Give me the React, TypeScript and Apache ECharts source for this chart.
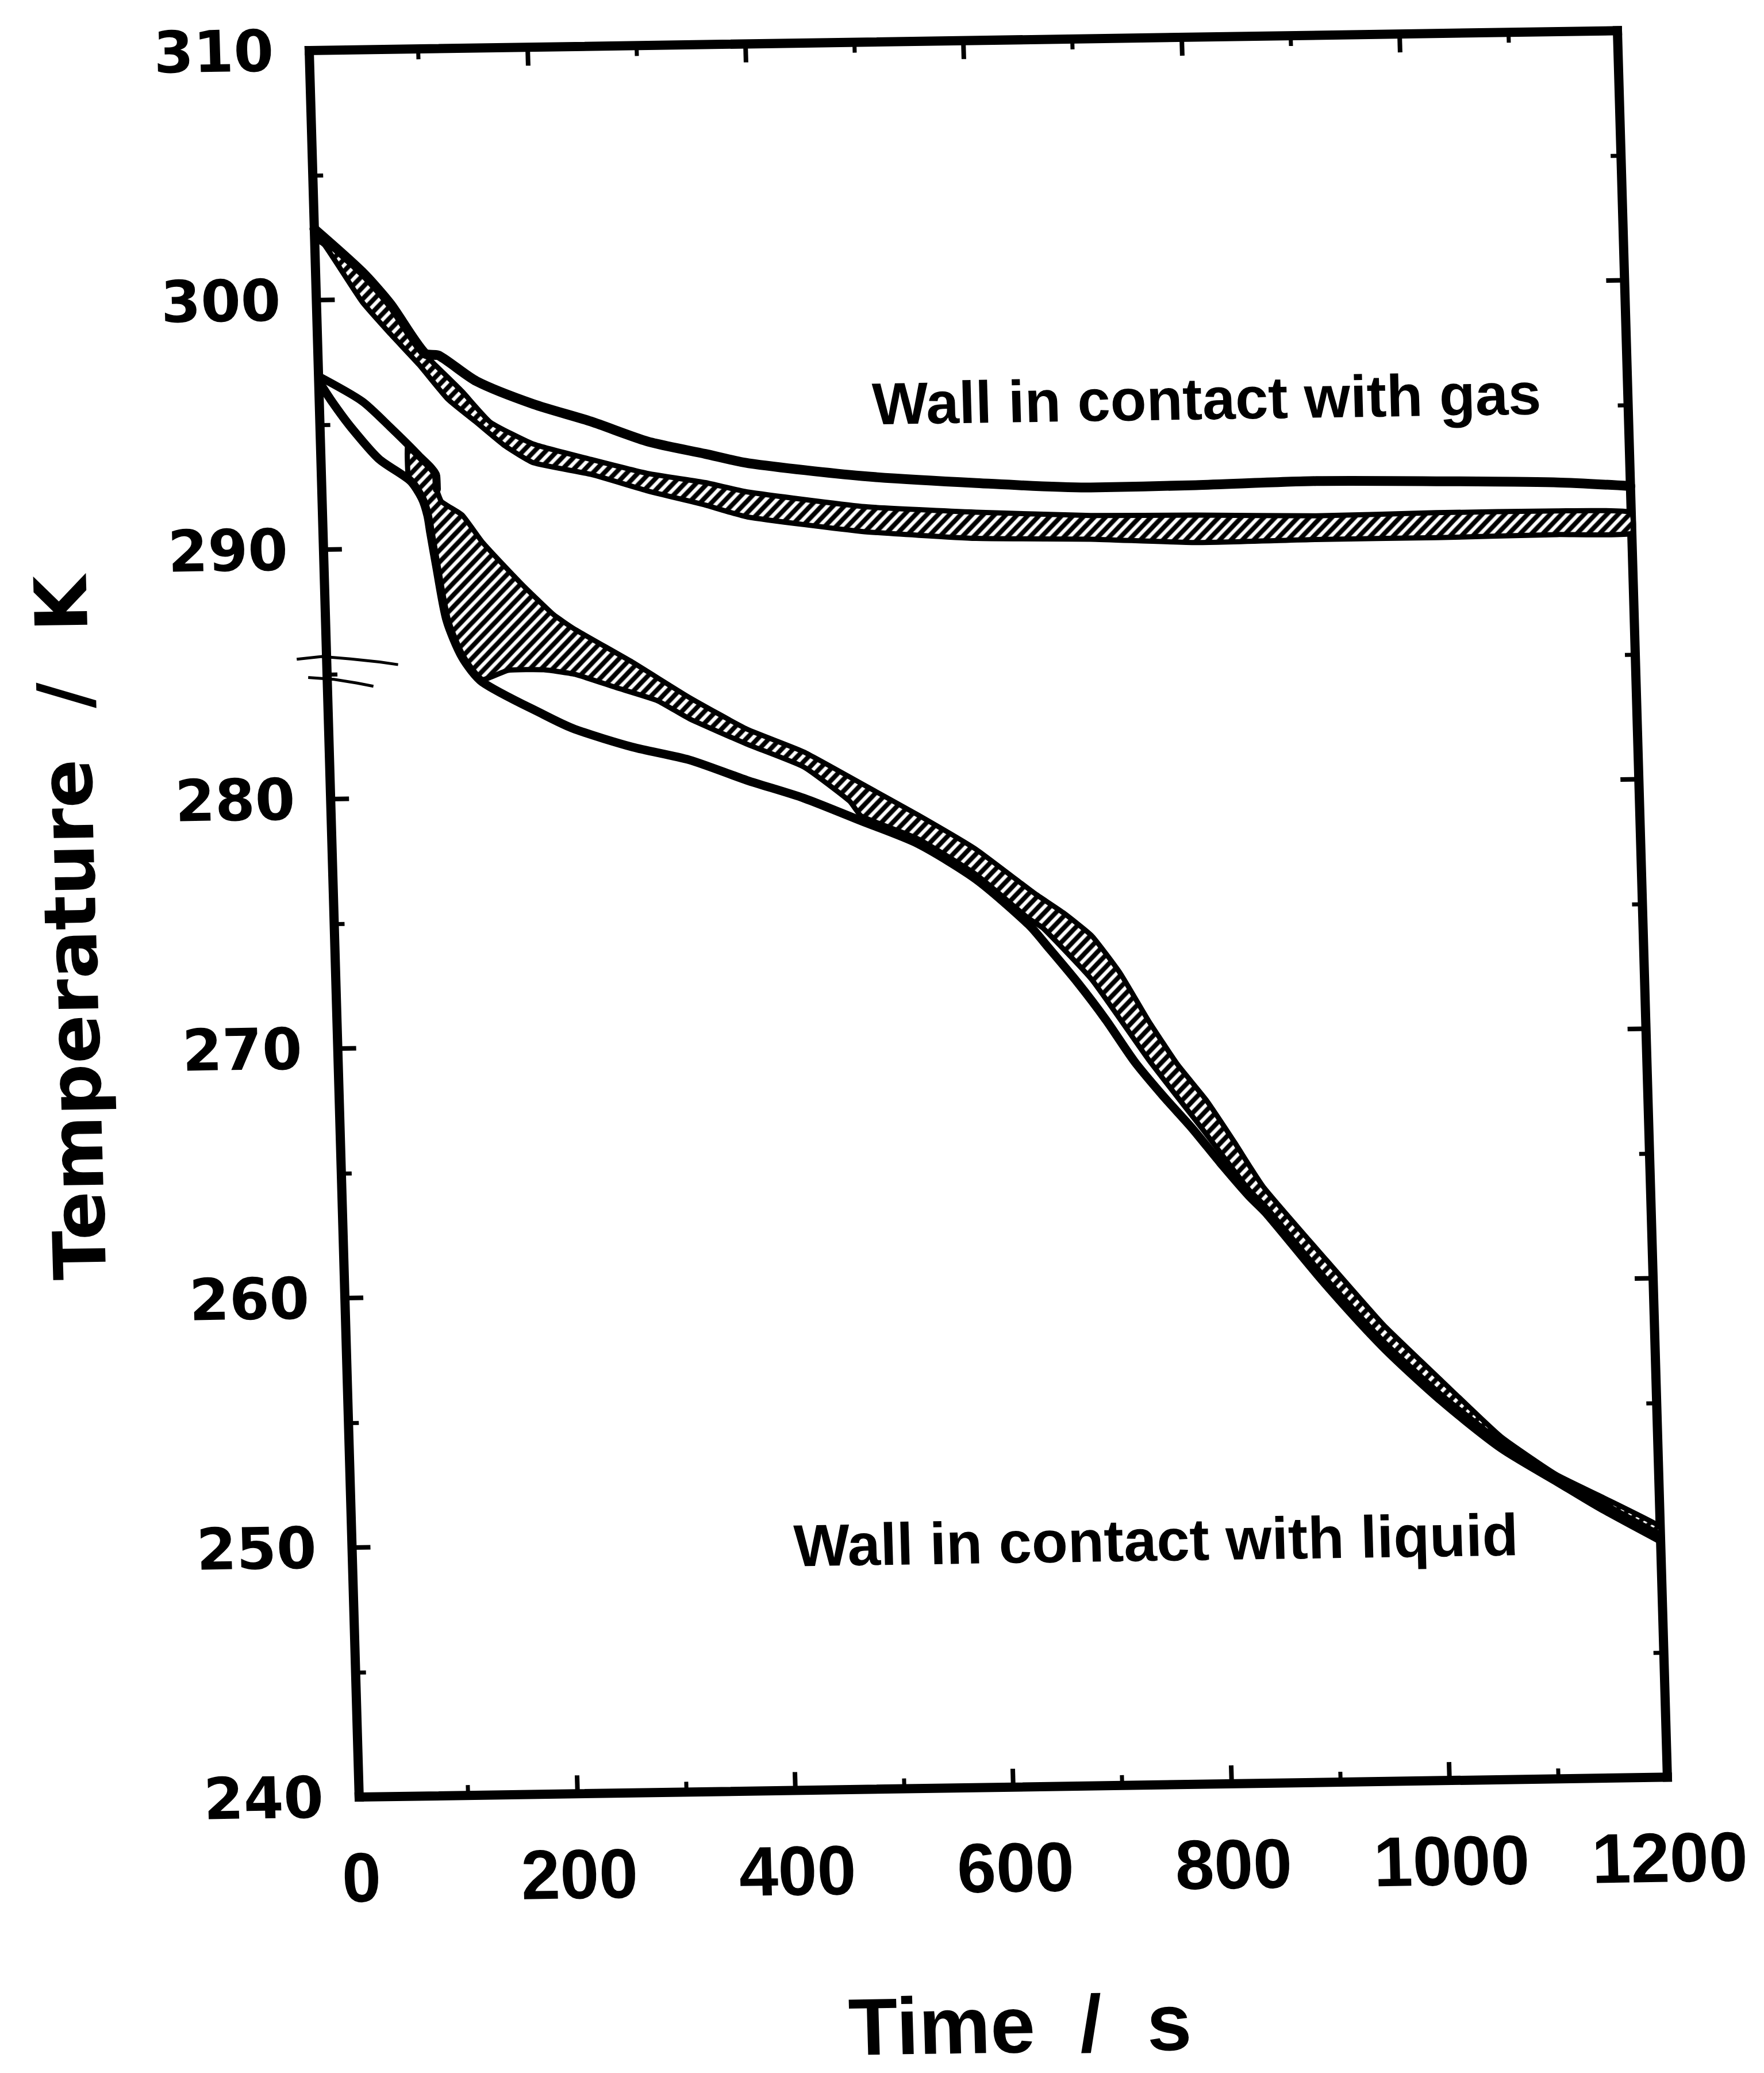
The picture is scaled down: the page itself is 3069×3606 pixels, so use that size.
import React, { useEffect, useRef } from 'react';
import * as echarts from 'echarts';

// ---- tick labels ----
const timeTicks = [0, 200, 400, 600, 800, 1000, 1200];
const tempTicks = [240, 250, 260, 270, 280, 290, 300, 310];

// ---- wall in contact with gas ----
const gasSolid: [number, number][] = [
  [0, 302.85], [42.7, 301.1], [67.7, 299.8], [98, 297.8], [111, 297.7], [144.8, 296.65],
  [196.3, 295.7], [248.6, 294.97], [300.3, 294.13], [352.7, 293.6], [392, 293.2],
  [495.5, 292.62], [600.3, 292.27], [705, 292.02], [801.6, 292.05], [911.9, 292.14],
  [1022.1, 292.06], [1132.8, 291.94], [1200, 291.75],
];
const gasBandTop: [number, number][] = [
  [0, 302.85], [42.7, 301.1], [67.7, 299.8], [98, 297.8], [105.7, 297.4], [131.3, 296.25],
  [156.4, 295.0], [195.3, 294.1], [247.7, 293.45], [299.5, 292.85], [352, 292.45],
  [390.2, 292.05], [494.8, 291.4], [599.5, 291.1], [704.4, 290.9], [800.9, 290.85],
  [911.1, 290.75], [1021.3, 290.8], [1132.1, 290.8], [1200, 290.7],
];
const gasBandBottom: [number, number][] = [
  [0, 302.5], [9, 302.2], [41.9, 299.9], [66.9, 298.6], [92.4, 297.35], [117.9, 295.95],
  [143.6, 295.0], [168.9, 294.05], [194.8, 293.35], [247.2, 292.85], [299, 292.15],
  [351.3, 291.55], [389.5, 291.05], [494, 290.4], [598.7, 290.05], [703.6, 289.95],
  [800, 289.75], [910.3, 289.8], [1020.6, 289.8], [1131.4, 289.85], [1200, 289.85],
];

// ---- wall in contact with liquid ----
const liquidUpper: [number, number][] = [
  [0, 296.95], [39.3, 295.92], [64.5, 294.86], [90, 293.7], [105.3, 292.88], [105.5, 292.35],
];
const liquidLower: [number, number][] = [
  [0, 296.75], [12, 295.9], [28.1, 294.9], [53.1, 293.6], [81.5, 292.7], [91.6, 292.0],
  [96.4, 291.3], [98.6, 290.6], [103, 289.3], [111.1, 287.1], [124.4, 285.6], [142.1, 284.6],
  [197.7, 283.25], [225.8, 282.65], [278.1, 281.9], [329.9, 281.35], [382.1, 280.5],
  [433.8, 279.75], [486, 278.8], [537.5, 277.85], [589.4, 276.4], [636.6, 274.55],
  [654.5, 273.6], [680, 272.2], [704.8, 270.7], [730.1, 269.0], [755.5, 267.6], [781, 266.3],
  [806, 264.9], [831.5, 263.55], [846.8, 262.85], [898.7, 260.0], [950.8, 257.4],
  [1003.1, 255.2], [1055.7, 253.3], [1108.6, 251.85], [1145.3, 250.85], [1200, 249.5],
];
const liquidBandTop: [number, number][] = [
  [80, 294.15], [90, 293.7], [105.3, 292.88], [105.5, 292.33], [109.5, 291.85], [128.1, 291.3],
  [145.9, 290.2], [178.6, 288.6], [191.9, 288.0], [209.3, 287.25], [228.5, 286.65],
  [280.3, 285.3], [331.6, 283.85], [383.5, 282.55], [435.1, 281.6], [487, 280.3],
  [538.4, 279.0], [590.2, 277.6], [642.8, 275.8], [668.8, 275.0], [694.5, 274.05],
  [719.3, 272.55], [744.4, 270.6], [769.6, 268.85], [795.1, 267.4], [819.8, 265.7],
  [845, 263.9], [899.5, 261.0], [951.5, 258.3], [1003.9, 256.0], [1056.2, 253.75],
  [1105.8, 252.2], [1145.8, 251.3], [1200, 250.05],
];
const liquidBandBottom: [number, number][] = [
  [80, 292.75], [91.6, 292.0], [96.4, 291.3], [98.6, 290.6], [103, 289.3], [111.1, 287.1],
  [124.4, 285.6], [142.1, 284.7], [166.1, 285.05], [198.8, 285.05], [227.2, 284.85],
  [264.3, 284.3], [301.9, 283.75], [331, 283.0], [383, 281.95], [434.6, 281.0],
  [475.8, 279.6], [486, 279.0], [537.5, 278.05], [589.4, 276.6], [636.6, 274.8],
  [649.7, 274.4], [693.2, 272.3], [743.3, 269.05], [794, 266.05], [831.5, 263.8],
  [846.8, 263.1], [898.7, 260.25], [950.8, 257.65], [1003.1, 255.45], [1055.7, 253.55],
  [1108.6, 252.1], [1145.3, 251.1], [1200, 249.75],
];

// ---- annotations (data coordinates of the text's left / middle anchor) ----
const gasLabelAt: [number, number] = [507, 295.5];
const liquidLabelAt: [number, number] = [405, 249.8];
const gasLabel = 'Wall in contact with gas';
const liquidLabel = 'Wall in contact with liquid';

function makeHatch(): HTMLCanvasElement {
  const s = 20;
  const c = document.createElement('canvas');
  c.width = s;
  c.height = s;
  const g = c.getContext('2d')!;
  g.fillStyle = '#ffffff';
  g.fillRect(0, 0, s, s);
  g.strokeStyle = '#000000';
  g.lineWidth = 8;
  g.beginPath();
  g.moveTo(-s / 2, s / 2); g.lineTo(s / 2, -s / 2);
  g.moveTo(0, s); g.lineTo(s, 0);
  g.moveTo(s / 2, s * 1.5); g.lineTo(s * 1.5, s / 2);
  g.stroke();
  return c;
}

const BLACK = '#000';
const CHART_W = 3069;
const CHART_H = 3700;

export default function App() {
  const ref = useRef<HTMLDivElement>(null);

  useEffect(() => {
    const el = ref.current!;
    const chart = echarts.init(el, null, { renderer: 'svg', width: CHART_W, height: CHART_H });
    const hatch = makeHatch();

    const xMin = timeTicks[0];
    const xMax = timeTicks[timeTicks.length - 1];
    const xInt = timeTicks[1] - timeTicks[0];
    const yMin = tempTicks[0];
    const yMax = tempTicks[tempTicks.length - 1];
    const yInt = tempTicks[1] - tempTicks[0];

    const axisLine = { show: true, onZero: false, lineStyle: { color: BLACK, width: 16, cap: 'square' } };
    const axisTick = { show: true, inside: true, length: 32, lineStyle: { color: BLACK, width: 8 } };
    const minorTick = { show: true, splitNumber: 2, length: 18, lineStyle: { color: BLACK, width: 7 } };

    const band = (name: string, top: [number, number][], bottom: [number, number][]) => ({
      type: 'custom',
      name,
      coordinateSystem: 'cartesian2d',
      xAxisIndex: 0,
      yAxisIndex: 0,
      silent: true,
      clip: false,
      z: 2,
      data: [top[0]],
      renderItem: (_params: any, api: any) => {
        const pts = [
          ...top.map((p) => api.coord(p)),
          ...bottom.slice().reverse().map((p) => api.coord(p)),
        ];
        return {
          type: 'polygon',
          shape: { points: pts, smooth: 0.15 },
          style: {
            fill: { image: hatch, repeat: 'repeat' },
            stroke: BLACK,
            lineWidth: 9,
            lineJoin: 'round',
          },
        };
      },
    });

    const line = (name: string, data: [number, number][], width: number) => ({
      type: 'line',
      name,
      data,
      showSymbol: false,
      symbol: 'none',
      smooth: 0.25,
      z: 3,
      silent: true,
      lineStyle: { color: BLACK, width, cap: 'round', join: 'round' },
    });

    const labels = [
      { at: gasLabelAt, text: gasLabel },
      { at: liquidLabelAt, text: liquidLabel },
    ];

    const option: any = {
      animation: false,
      backgroundColor: '#ffffff',
      textStyle: { fontFamily: 'Liberation Sans', color: BLACK },
      grid: {
        left: 538, top: 88, width: 2276, height: 3038,
        containLabel: false, outerBoundsMode: 'none',
      },
      xAxis: [
        {
          type: 'value', position: 'bottom', min: xMin, max: xMax, interval: xInt,
          axisLine, axisTick, minorTick,
          splitLine: { show: false }, minorSplitLine: { show: false },
          axisLabel: {
            show: true, margin: 79, showMinLabel: true, showMaxLabel: true,
            color: BLACK, fontFamily: 'Liberation Sans', fontWeight: 'bold', fontSize: 122,
            formatter: (v: number) => String(v),
          },
          name: 'Time  /  s', nameLocation: 'middle', nameGap: 343,
          nameTextStyle: { color: BLACK, fontFamily: 'Liberation Sans', fontWeight: 'bold', fontSize: 140 },
        },
        {
          type: 'value', position: 'top', min: xMin, max: xMax, interval: xInt,
          axisLine, axisTick, minorTick,
          splitLine: { show: false }, axisLabel: { show: false },
        },
      ],
      yAxis: [
        {
          type: 'value', position: 'left', min: yMin, max: yMax, interval: yInt,
          axisLine, axisTick, minorTick,
          splitLine: { show: false }, minorSplitLine: { show: false },
          axisLabel: {
            show: true, margin: 62, showMinLabel: true, showMaxLabel: true,
            color: BLACK, fontFamily: 'DejaVu Sans', fontWeight: 'bold', fontSize: 100,
            formatter: (v: number) => String(v),
          },
          name: 'Temperature  /  K', nameLocation: 'middle', nameRotate: 90, nameGap: 395,
          nameTextStyle: { color: BLACK, fontFamily: 'DejaVu Sans', fontWeight: 'bold', fontSize: 126 },
        },
        {
          type: 'value', position: 'right', min: yMin, max: yMax, interval: yInt,
          axisLine, axisTick, minorTick,
          splitLine: { show: false }, axisLabel: { show: false },
        },
      ],
      graphic: [
        {
          type: 'polyline', z: 100,
          shape: { points: [[486, 1146], [530, 1142], [580, 1147], [630, 1153], [662, 1158]] },
          style: { stroke: BLACK, lineWidth: 5, fill: 'none' },
        },
        {
          type: 'polyline', z: 100,
          shape: { points: [[505, 1178], [550, 1182], [590, 1189], [618, 1195]] },
          style: { stroke: BLACK, lineWidth: 5, fill: 'none' },
        },
      ],
      series: [
        band('gas band', gasBandTop, gasBandBottom),
        band('liquid band', liquidBandTop, liquidBandBottom),
        line('gas wall', gasSolid, 17),
        line('liquid wall upper', liquidUpper, 14),
        line('liquid wall lower', liquidLower, 15),
        {
          type: 'custom',
          name: 'labels',
          coordinateSystem: 'cartesian2d',
          silent: true,
          clip: false,
          z: 5,
          data: labels.map((l, i) => [l.at[0], l.at[1], i]),
          renderItem: (params: any, api: any) => {
            const item = labels[params.dataIndex];
            const p = api.coord(item.at);
            return {
              type: 'text',
              x: p[0],
              y: p[1],
              style: {
                text: item.text,
                fill: '#000000',
                fontFamily: 'Liberation Sans',
                fontWeight: 'bold',
                fontSize: 103,
                align: 'left',
                verticalAlign: 'middle',
              },
            };
          },
        },
      ],
    };

    chart.setOption(option);
    return () => chart.dispose();
  }, []);

  return (
    <div
      style={{
        position: 'absolute', left: 0, top: 0, width: 3069, height: 3606,
        overflow: 'hidden', background: '#ffffff',
      }}
    >
      <div
        ref={ref}
        style={{
          width: CHART_W, height: CHART_H,
          transformOrigin: '538px 88px',
          transform: 'matrix(1, -0.0152, 0.0286, 1, 0, 0)',
        }}
      />
    </div>
  );
}
